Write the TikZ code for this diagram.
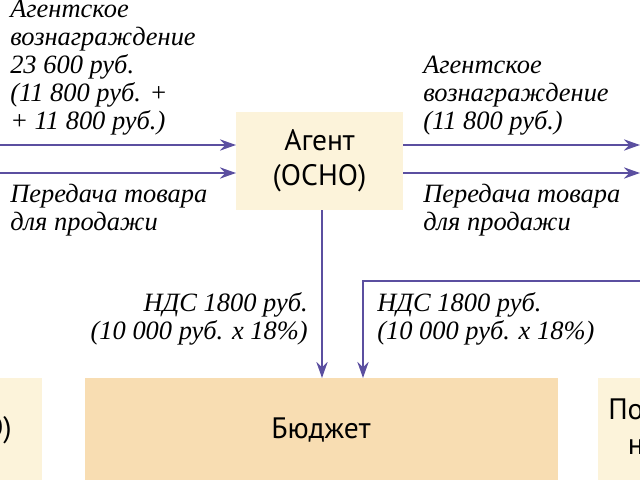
\documentclass[tikz,border=0pt]{standalone}
\usepackage{fontspec}
\setmainfont{Liberation Serif}
\setsansfont{PT Sans}
\usetikzlibrary{arrows.meta}
\definecolor{arrowpurple}{HTML}{5B4FA0}
\definecolor{boxlight}{HTML}{FCF3DA}
\definecolor{boxwheat}{HTML}{F8DDB2}
\tikzset{
  flow/.style={draw=arrowpurple, line width=1.6pt, -{Stealth[length=4mm,width=2.8mm]}},
  note/.style={font=\fontsize{18.8}{19.9}\selectfont\itshape, align=left, inner sep=0pt},
  box/.style={font=\sffamily\fontsize{21}{25}\selectfont, align=center, inner sep=0pt}
}
\begin{document}
\begin{tikzpicture}[x=0.025cm, y=-0.025cm]
  \useasboundingbox (0,0) rectangle (640,480);
  \clip (0,0) rectangle (640,480);
  % --- boxes
  \fill[boxlight] (-60,378) rectangle (42,490);
  \fill[boxwheat] (85,378) rectangle (558,490);
  \fill[boxlight] (598,378) rectangle (700,490);
  \fill[boxlight] (236,112) rectangle (403,210);
  \node[box] (agent) at (319.5,161) {Агент\\(ОСНО)};
  \node[box] (budget) at (321,430) {Бюджет};
  \node[box, anchor=east] (principal) at (12,430) {(ОСНО)};
  \node[box, anchor=west, align=left] (buyer) at (608,430) {Покупатель\\\hspace*{14pt}нерезидент};
  % --- ends of the arrows
  \coordinate (inA) at (0,145);
  \coordinate (inB) at (0,173);
  \coordinate (outA) at (640,145);
  \coordinate (outB) at (640,173);
  \coordinate (vatL) at (322,210);
  \coordinate (vatLend) at (322,378);
  \coordinate (vatR) at (640,281);
  \coordinate (vatRturn) at (363,281);
  \coordinate (vatRend) at (363,378);
  \draw[flow] (inA) -- (236,145);
  \draw[flow] (inB) -- (236,173);
  \draw[flow] (403,145) -- (outA);
  \draw[flow] (403,173) -- (outB);
  \draw[flow] (vatL) -- (vatLend);
  \draw[flow] (vatR) -- (vatRturn) -- (vatRend);
  % --- texts
  \node[note, anchor=north west] (feeL) at (10,0) {Агентское\\вознаграждение\\23 600 руб.\\(11 800 руб. +\\+ 11 800 руб.)};
  \node[note, anchor=north west] (feeR) at (423,56) {Агентское\\вознаграждение\\(11 800 руб.)};
  \node[note, anchor=north west] (goodsL) at (10,184) {Передача товара\\для продажи};
  \node[note, anchor=north west] (goodsR) at (423,184) {Передача товара\\для продажи};
  \node[note, anchor=north east, align=right] (vatTxtL) at (308,292) {НДС 1800 руб.\\(10 000 руб. х 18\%)};
  \node[note, anchor=north west] (vatTxtR) at (377,292) {НДС 1800 руб.\\(10 000 руб. х 18\%)};
\end{tikzpicture}
\end{document}
